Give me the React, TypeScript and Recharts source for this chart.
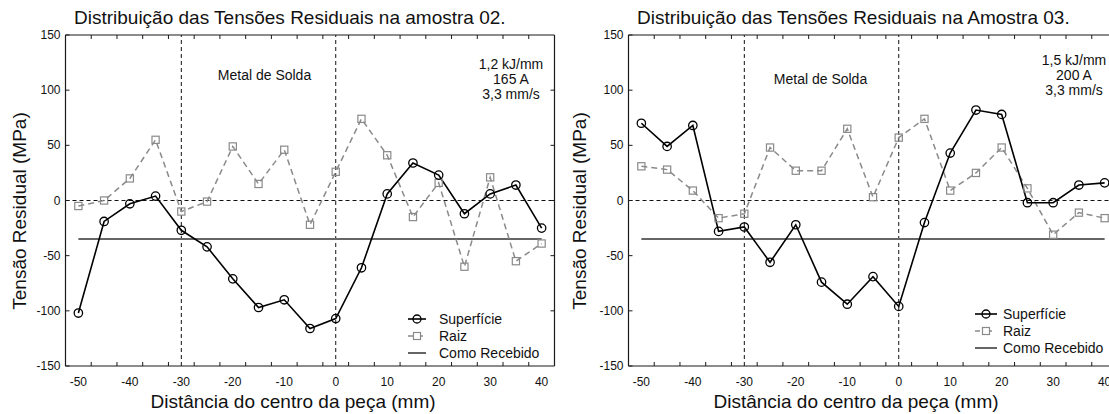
import React from 'react';
import { LineChart, Line, XAxis, YAxis, ReferenceLine } from 'recharts';

const posicoes = [-50, -45, -40, -35, -30, -25, -20, -15, -10, -5, 0, 5, 10, 15, 20, 25, 30, 35, 40];
const superficie02 = [-102, -19, -3, 4, -27, -42, -71, -97, -90, -116, -107, -61, 6, 34, 23, -12, 6, 14, -25];
const raiz02 = [-5, 0, 20, 55, -10, -1, 49, 15, 46, -22, 26, 74, 41, -15, 16, -60, 21, -55, -39];
const superficie03 = [70, 49, 68, -28, -24, -56, -22, -74, -94, -69, -96, -20, 43, 82, 78, -2, -2, 14, 16];
const raiz03 = [31, 28, 9, -16, -12, 48, 27, 27, 65, 3, 57, 74, 9, 25, 48, 11, -31, -11, -16];
const comoRecebidoX = [-50, 40];
const comoRecebido02 = [-35, -35];
const comoRecebido03 = [-35, -35];
const xTicks = [-50, -40, -30, -20, -10, 0, 10, 20, 30, 40];
const xMinorTicks = [-47.5, -42.5, -37.5, -32.5, -27.5, -22.5, -17.5, -12.5, -7.5, -2.5, 2.5, 7.5, 12.5, 17.5, 22.5, 27.5, 32.5, 37.5];
const yTicks = [-150, -100, -50, 0, 50, 100, 150];
const yRightTicks = [-100, -50, 0, 50, 100];
const limitesSolda = [-30, 0];
const xDomain: [number, number] = [-52.5, 42.5];
const yDomain: [number, number] = [-150, 150];
const legendaNomes = ['Superfície', 'Raiz', 'Como Recebido'];

const FONT = '"Liberation Sans", Arial, Helvetica, sans-serif';
const AXIS_COLOR = '#1a1a1a';

const allBottomTicks = [...xTicks, ...xMinorTicks].sort((a, b) => a - b);

const BottomTick = (props: any) => {
  const { x, y, payload } = props;
  const v = payload.value;
  if (xTicks.includes(v)) {
    return (
      <text x={x} y={y + 16} textAnchor="middle" dominantBaseline="central" fontSize={12} fill="#111" fontFamily={FONT}>
        {String(v)}
      </text>
    );
  }
  return <line x1={x} y1={y} x2={x} y2={y - 4} stroke={AXIS_COLOR} strokeWidth={1} />;
};

const TopTick = (props: any) => {
  const { x, y } = props;
  return <line x1={x} y1={y} x2={x} y2={y + 4} stroke={AXIS_COLOR} strokeWidth={1} />;
};

const LeftTick = (props: any) => {
  const { x, y, payload } = props;
  return (
    <g>
      <line x1={x} y1={y} x2={x + 4} y2={y} stroke={AXIS_COLOR} strokeWidth={1} />
      <text x={x - 5} y={y} textAnchor="end" dominantBaseline="central" fontSize={12} fill="#111" fontFamily={FONT}>
        {String(payload.value)}
      </text>
    </g>
  );
};

const RightTick = (props: any) => {
  const { x, y } = props;
  return <line x1={x} y1={y} x2={x - 4} y2={y} stroke={AXIS_COLOR} strokeWidth={1} />;
};

const CircleDot = (props: any) => {
  const { cx, cy, index } = props;
  if (cx == null || cy == null) return <g key={`c${index}`} />;
  return <circle key={`c${index}`} cx={cx} cy={cy} r={4.2} fill="none" stroke="#000" strokeWidth={1.3} />;
};

const SquareDot = (props: any) => {
  const { cx, cy, index } = props;
  if (cx == null || cy == null) return <g key={`s${index}`} />;
  return <rect key={`s${index}`} x={cx - 3.6} y={cy - 3.6} width={7.2} height={7.2} fill="none" stroke="#8a8a8a" strokeWidth={1.2} />;
};

type PanelProps = {
  left: number;
  titulo: string;
  tituloX: number;
  xLabelCx: number;
  yLabelCx: number;
  superficie: number[];
  raiz: number[];
  comoRecebido: number[];
  soldaCx: number;
  soldaCy: number;
  anotacao: string[];
  anotCx: number;
  anotY: number[];
  legX: number;
  legTextX: number;
  legSymW: number;
  legY: number[];
};

const txt = (extra: React.CSSProperties): React.CSSProperties => ({
  position: 'absolute',
  fontFamily: FONT,
  color: '#111',
  whiteSpace: 'nowrap',
  lineHeight: 1,
  ...extra,
});

const Panel = (p: PanelProps) => {
  const rows = posicoes.map((x, i) => ({ x, sup: p.superficie[i], raiz: p.raiz[i] }));
  const como = comoRecebidoX.map((x, i) => ({ x, como: p.comoRecebido[i] }));
  return (
    <div style={{ position: 'absolute', left: p.left, top: 0, width: 560, height: 414 }}>
      <LineChart width={560} height={414} data={rows} margin={{ top: 30, right: 0.5, bottom: 18, left: 25.5 }}>
        <XAxis
          dataKey="x"
          type="number"
          domain={xDomain}
          ticks={allBottomTicks}
          interval={0}
          height={30}
          tickSize={0}
          tickMargin={0}
          tickLine={false}
          tick={<BottomTick />}
          axisLine={{ stroke: AXIS_COLOR, strokeWidth: 1.2 }}
          allowDataOverflow
        />
        <XAxis
          xAxisId="top"
          orientation="top"
          dataKey="x"
          type="number"
          domain={xDomain}
          ticks={xMinorTicks}
          interval={0}
          height={5}
          tickSize={0}
          tickMargin={0}
          tickLine={false}
          tick={<TopTick />}
          axisLine={{ stroke: AXIS_COLOR, strokeWidth: 1.2 }}
          allowDataOverflow
        />
        <YAxis
          type="number"
          domain={yDomain}
          ticks={yTicks}
          interval={0}
          width={40}
          tickSize={0}
          tickMargin={0}
          tickLine={false}
          tick={<LeftTick />}
          axisLine={{ stroke: AXIS_COLOR, strokeWidth: 1.2 }}
          allowDataOverflow
        />
        <YAxis
          yAxisId="right"
          orientation="right"
          type="number"
          domain={yDomain}
          ticks={yRightTicks}
          interval={0}
          width={5}
          tickSize={0}
          tickMargin={0}
          tickLine={false}
          tick={<RightTick />}
          axisLine={{ stroke: AXIS_COLOR, strokeWidth: 1.2 }}
          allowDataOverflow
        />
        {limitesSolda.map((v) => (
          <ReferenceLine key={`v${v}`} x={v} stroke="#111" strokeWidth={1} strokeDasharray="4 3" />
        ))}
        <ReferenceLine y={0} stroke="#111" strokeWidth={1} strokeDasharray="4 3" />
        <Line
          data={como}
          dataKey="como"
          stroke="#666"
          strokeWidth={2}
          dot={false}
          activeDot={false}
          isAnimationActive={false}
        />
        <Line
          dataKey="raiz"
          stroke="#8a8a8a"
          strokeWidth={1.5}
          strokeDasharray="6 4"
          dot={SquareDot}
          activeDot={false}
          isAnimationActive={false}
        />
        <Line
          dataKey="sup"
          stroke="#000"
          strokeWidth={1.6}
          dot={CircleDot}
          activeDot={false}
          isAnimationActive={false}
        />
      </LineChart>

      <div style={txt({ left: p.tituloX - p.left, top: 17, fontSize: 19, transform: 'translateY(-50%)' })}>{p.titulo}</div>
      <div style={txt({ left: p.xLabelCx - p.left, top: 401, fontSize: 19, transform: 'translate(-50%, -50%)' })}>
        Distância do centro da peça (mm)
      </div>
      <div
        style={txt({
          left: p.yLabelCx - p.left,
          top: 211,
          fontSize: 19,
          transform: 'translate(-50%, -50%) rotate(-90deg)',
        })}
      >
        Tensão Residual (MPa)
      </div>
      <div style={txt({ left: p.soldaCx - p.left, top: p.soldaCy, fontSize: 14, transform: 'translate(-50%, -50%)' })}>
        Metal de Solda
      </div>
      {p.anotacao.map((s, i) => (
        <div
          key={s}
          style={txt({ left: p.anotCx - p.left, top: p.anotY[i], fontSize: 14, transform: 'translate(-50%, -50%)' })}
        >
          {s}
        </div>
      ))}
      {legendaNomes.map((nome, i) => {
        const w = p.legSymW;
        return (
          <div key={nome}>
            <svg
              width={w}
              height={12}
              style={{ position: 'absolute', left: p.legX - p.left, top: p.legY[i] - 6, overflow: 'visible' }}
            >
              {i === 0 && (
                <g>
                  <line x1={0} y1={6} x2={w} y2={6} stroke="#000" strokeWidth={1.6} />
                  <circle cx={w / 2} cy={6} r={4} fill="none" stroke="#000" strokeWidth={1.3} />
                </g>
              )}
              {i === 1 && (
                <g>
                  <line x1={0} y1={6} x2={5} y2={6} stroke="#8a8a8a" strokeWidth={1.5} />
                  <rect x={w / 2 - 3.5} y={2.5} width={7} height={7} fill="none" stroke="#8a8a8a" strokeWidth={1.2} />
                  <line x1={w / 2 + 3.5} y1={6} x2={w / 2 + 6} y2={6} stroke="#8a8a8a" strokeWidth={1.5} />
                </g>
              )}
              {i === 2 && <line x1={0} y1={6} x2={w} y2={6} stroke="#666" strokeWidth={2} />}
            </svg>
            <div style={txt({ left: p.legTextX - p.left, top: p.legY[i], fontSize: 14, transform: 'translateY(-50%)' })}>
              {nome}
            </div>
          </div>
        );
      })}
    </div>
  );
};

export default function App() {
  return (
    <div style={{ position: 'absolute', left: 0, top: 0, width: 1109, height: 414, overflow: 'hidden', background: '#fff' }}>
      <Panel
        left={0}
        titulo="Distribuição das Tensões Residuais na amostra 02."
        tituloX={74}
        xLabelCx={293}
        yLabelCx={19}
        superficie={superficie02}
        raiz={raiz02}
        comoRecebido={comoRecebido02}
        soldaCx={264.5}
        soldaCy={75}
        anotacao={['1,2 kJ/mm', '165 A', '3,3 mm/s']}
        anotCx={511}
        anotY={[64, 79, 94]}
        legX={408}
        legTextX={439}
        legSymW={18}
        legY={[319, 336, 353]}
      />
      <Panel
        left={563}
        titulo="Distribuição das Tensões Residuais na Amostra 03."
        tituloX={637}
        xLabelCx={856}
        yLabelCx={579}
        superficie={superficie03}
        raiz={raiz03}
        comoRecebido={comoRecebido03}
        soldaCx={820.5}
        soldaCy={79}
        anotacao={['1,5 kJ/mm', '200 A', '3,3 mm/s']}
        anotCx={1074}
        anotY={[60, 75, 90]}
        legX={975}
        legTextX={1003}
        legSymW={22}
        legY={[314, 331, 348]}
      />
    </div>
  );
}
